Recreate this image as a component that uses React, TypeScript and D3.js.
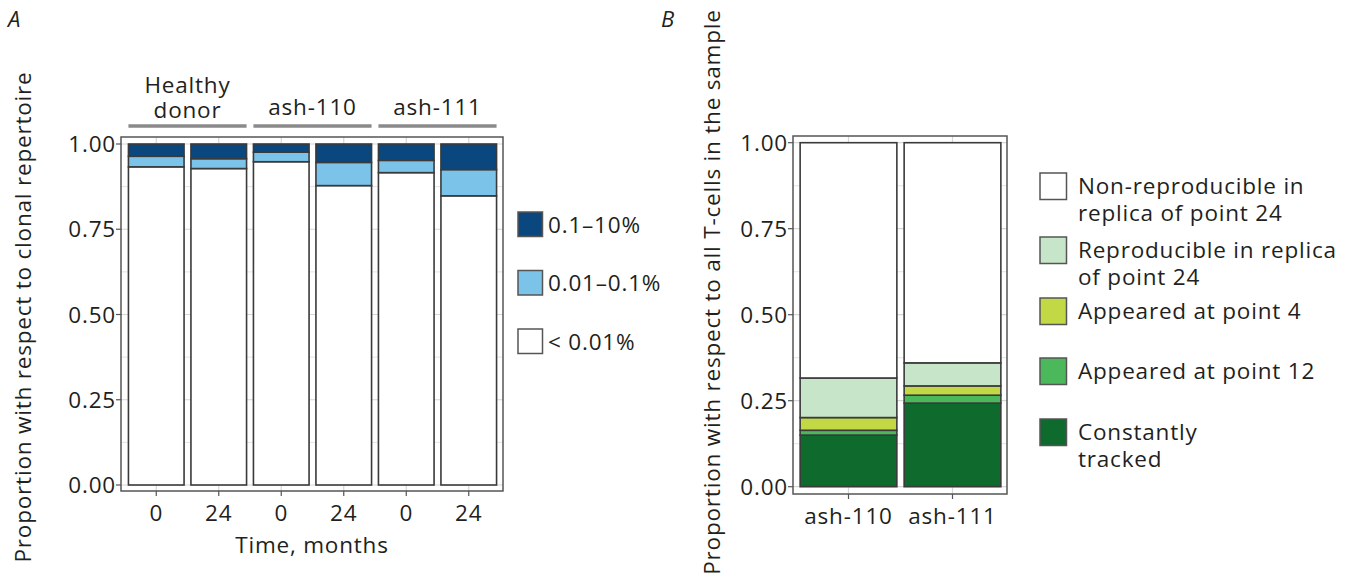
import React from 'react';
import * as d3 from 'd3';

// Panel A: clonal repertoire structure
const groupsA = ['Healthy donor', 'ash-110', 'ash-111'];
const timesA = ['0', '24', '0', '24', '0', '24'];
const sampleGroupA = [0, 0, 1, 1, 2, 2];
const lowA = [0.933, 0.928, 0.948, 0.878, 0.916, 0.848];
const midA = [0.031, 0.029, 0.028, 0.068, 0.036, 0.077];
const highA = [0.036, 0.043, 0.024, 0.054, 0.048, 0.075];
const seriesA = ['< 0.01%', '0.01\u20130.1%', '0.1\u201310%'];
const colorsA = ['#ffffff', '#7cc3ea', '#0a477f'];

// Panel B: proportion of T-cells
const patientsB = ['ash-110', 'ash-111'];
const constantB = [0.15, 0.243];
const app12B = [0.014, 0.023];
const app4B = [0.037, 0.027];
const reproB = [0.115, 0.067];
const nonReproB = [0.684, 0.64];
const seriesB = [
  'Constantly tracked',
  'Appeared at point 12',
  'Appeared at point 4',
  'Reproducible in replica of point 24',
  'Non-reproducible in replica of point 24',
];
const colorsB = ['#0e6a2d', '#4cb85c', '#c3d845', '#c7e5c9', '#ffffff'];
const legendLinesB = [
  ['Non-reproducible in', 'replica of point 24'],
  ['Reproducible in replica', 'of point 24'],
  ['Appeared at point 4'],
  ['Appeared at point 12'],
  ['Constantly', 'tracked'],
];

const yTicks = [0, 0.25, 0.5, 0.75, 1];
const minorTicks = [0.125, 0.375, 0.625, 0.875];
const font = "'Open Sans', Lato, sans-serif";
const ink = '#231f20';
const fs = 22.5;
const ls = 0.8;

const Panel = ({ x, y, left, right, top, bottom }) => (
  <g>
    <rect x={left} y={top} width={right - left} height={bottom - top} fill="#fff" />
    {minorTicks.map(t => (
      <line key={'m' + t} x1={left} x2={right} y1={y(t)} y2={y(t)} stroke="#e4e4e4" strokeWidth={1} />
    ))}
    {yTicks.map(t => (
      <line key={'g' + t} x1={left} x2={right} y1={y(t)} y2={y(t)} stroke="#d6d6d6" strokeWidth={1.2} />
    ))}
    {x.domain().map(d => (
      <line key={'v' + d} x1={x(d) + x.bandwidth() / 2} x2={x(d) + x.bandwidth() / 2} y1={top} y2={bottom} stroke="#d6d6d6" strokeWidth={1.2} />
    ))}
  </g>
);

const App = () => {
  // ---------- panel A ----------
  const aLeft = 121, aRight = 503, aTop = 137, aBottom = 491;
  const keysA = timesA.map((t, i) => `${i}`);
  const xA = d3.scaleBand().domain(keysA).range([125, 500]).paddingInner(0.11).paddingOuter(0.055);
  const yA = d3.scaleLinear().domain([0, 1]).range([485, 144]);
  const rowsA = keysA.map((k, i) => ({ key: k, low: lowA[i], mid: midA[i], high: highA[i] }));
  const stackA = d3.stack().keys(['low', 'mid', 'high'])(rowsA);

  // ---------- panel B ----------
  const bLeft = 793, bRight = 1007, bTop = 136, bBottom = 494;
  const xB = d3.scaleBand().domain(patientsB).range([796.5, 1004.5]).paddingInner(0.07).paddingOuter(0.035);
  const yB = d3.scaleLinear().domain([0, 1]).range([486.7, 142.7]);
  const rowsB = patientsB.map((p, i) => ({
    key: p, c: constantB[i], a12: app12B[i], a4: app4B[i], r: reproB[i], n: nonReproB[i],
  }));
  const stackB = d3.stack().keys(['c', 'a12', 'a4', 'r', 'n'])(rowsB);

  const fmt = d3.format('.2f');

  // group strip extents
  const groupSpan = groupsA.map((g, gi) => {
    const idx = keysA.filter((k, i) => sampleGroupA[i] === gi);
    const s = xA(idx[0]);
    const e = xA(idx[idx.length - 1]) + xA.bandwidth();
    return { g, s, e, c: (s + e) / 2 };
  });

  return (
    <svg width={1351} height={579} style={{ position: 'absolute', left: 0, top: 0, background: '#fff' }}
      fontFamily={font} letterSpacing={ls}>
      <rect width={1351} height={579} fill="#fff" />
      {/* Panel letters */}
      <text x={8} y={27} fontSize={22} fontStyle="italic" fill={ink}>A</text>
      <text x={661} y={27} fontSize={22} fontStyle="italic" fill={ink}>B</text>

      {/* ================= A ================= */}
      <Panel x={xA} y={yA} left={aLeft} right={aRight} top={aTop} bottom={aBottom} />
      {stackA.map((layer, li) => (
        <g key={layer.key}>
          {layer.map((d, i) => (
            <rect key={i} x={xA(keysA[i])} width={xA.bandwidth()} y={yA(d[1])} height={yA(d[0]) - yA(d[1])}
              fill={colorsA[li]} stroke="#3a3a3a" strokeWidth={1.6} />
          ))}
        </g>
      ))}
      <rect x={aLeft} y={aTop} width={aRight - aLeft} height={aBottom - aTop} fill="none" stroke="#555" strokeWidth={1.5} />
      {yTicks.map(t => (
        <g key={t}>
          <line x1={aLeft - 5} x2={aLeft} y1={yA(t)} y2={yA(t)} stroke="#555" strokeWidth={1.2} />
          <text x={aLeft - 5} y={yA(t)} dy="0.36em" textAnchor="end" fontSize={fs} fill={ink}>{fmt(t)}</text>
        </g>
      ))}
      {keysA.map((k, i) => (
        <g key={k}>
          <line x1={xA(k) + xA.bandwidth() / 2} x2={xA(k) + xA.bandwidth() / 2} y1={aBottom} y2={aBottom + 5} stroke="#555" strokeWidth={1.2} />
          <text x={xA(k) + xA.bandwidth() / 2} y={521} textAnchor="middle" fontSize={fs} fill={ink}>{timesA[i]}</text>
        </g>
      ))}
      <text x={(aLeft + aRight) / 2} y={553} textAnchor="middle" fontSize={fs} fill={ink}>Time, months</text>
      <text transform={`translate(31,${(aTop + aBottom) / 2 + 3}) rotate(-90)`} textAnchor="middle" fontSize={fs} fill={ink}>
        Proportion with respect to clonal repertoire
      </text>
      {/* group strips */}
      {groupSpan.map(({ g, s, e, c }) => {
        const words = g.split(' ');
        return (
          <g key={g}>
            <line x1={s} x2={e} y1={126} y2={126} stroke="#8a8a8a" strokeWidth={3.5} />
            {words.length > 1 ? (
              <text x={c} y={93} textAnchor="middle" fontSize={fs} fill={ink}>
                {words.map((w, k) => (
                  <tspan key={k} x={c} dy={k === 0 ? 0 : 25}>{w}</tspan>
                ))}
              </text>
            ) : (
              <text x={c} y={115} textAnchor="middle" fontSize={fs} fill={ink}>{g}</text>
            )}
          </g>
        );
      })}
      {/* legend A */}
      {[2, 1, 0].map((si, j) => (
        <g key={si} transform={`translate(518,${212 + j * 58.5})`}>
          <rect width={24.5} height={24.5} fill={colorsA[si]} stroke="#555" strokeWidth={1.5} />
          <text x={30} y={12.5} dy="0.36em" fontSize={fs} fill={ink}>{seriesA[si]}</text>
        </g>
      ))}

      {/* ================= B ================= */}
      <Panel x={xB} y={yB} left={bLeft} right={bRight} top={bTop} bottom={bBottom} />
      {stackB.map((layer, li) => (
        <g key={layer.key}>
          {layer.map((d, i) => (
            <rect key={i} x={xB(patientsB[i])} width={xB.bandwidth()} y={yB(d[1])} height={yB(d[0]) - yB(d[1])}
              fill={colorsB[li]} stroke="#3a3a3a" strokeWidth={1.6} />
          ))}
        </g>
      ))}
      <rect x={bLeft} y={bTop} width={bRight - bLeft} height={bBottom - bTop} fill="none" stroke="#555" strokeWidth={1.5} />
      {yTicks.map(t => (
        <g key={t}>
          <line x1={bLeft - 5} x2={bLeft} y1={yB(t)} y2={yB(t)} stroke="#555" strokeWidth={1.2} />
          <text x={bLeft - 5} y={yB(t)} dy="0.36em" textAnchor="end" fontSize={fs} fill={ink}>{fmt(t)}</text>
        </g>
      ))}
      {patientsB.map(p => (
        <g key={p}>
          <line x1={xB(p) + xB.bandwidth() / 2} x2={xB(p) + xB.bandwidth() / 2} y1={bBottom} y2={bBottom + 5} stroke="#555" strokeWidth={1.2} />
          <text x={xB(p) + xB.bandwidth() / 2} y={524} textAnchor="middle" fontSize={fs} fill={ink}>{p}</text>
        </g>
      ))}
      <text transform={`translate(720,292) rotate(-90)`} textAnchor="middle" fontSize={fs} fill={ink}>
        Proportion with respect to all T-cells in the sample
      </text>
      {/* legend B */}
      {[4, 3, 2, 1, 0].map((si, j) => {
        const ys = [173, 237, 298, 358, 419];
        return (
          <g key={si} transform={`translate(1040,${ys[j]})`}>
            <rect width={26.5} height={26.5} fill={colorsB[si]} stroke="#555" strokeWidth={1.5} />
            <text x={38} y={13} dy="0.36em" fontSize={fs} fill={ink}>
              {legendLinesB[j].map((ln, k) => (
                <tspan key={k} x={38} dy={k === 0 ? '0.36em' : 26.5}>{ln}</tspan>
              ))}
            </text>
            <title>{seriesB[si]}</title>
          </g>
        );
      })}
    </svg>
  );
};

export default App;
